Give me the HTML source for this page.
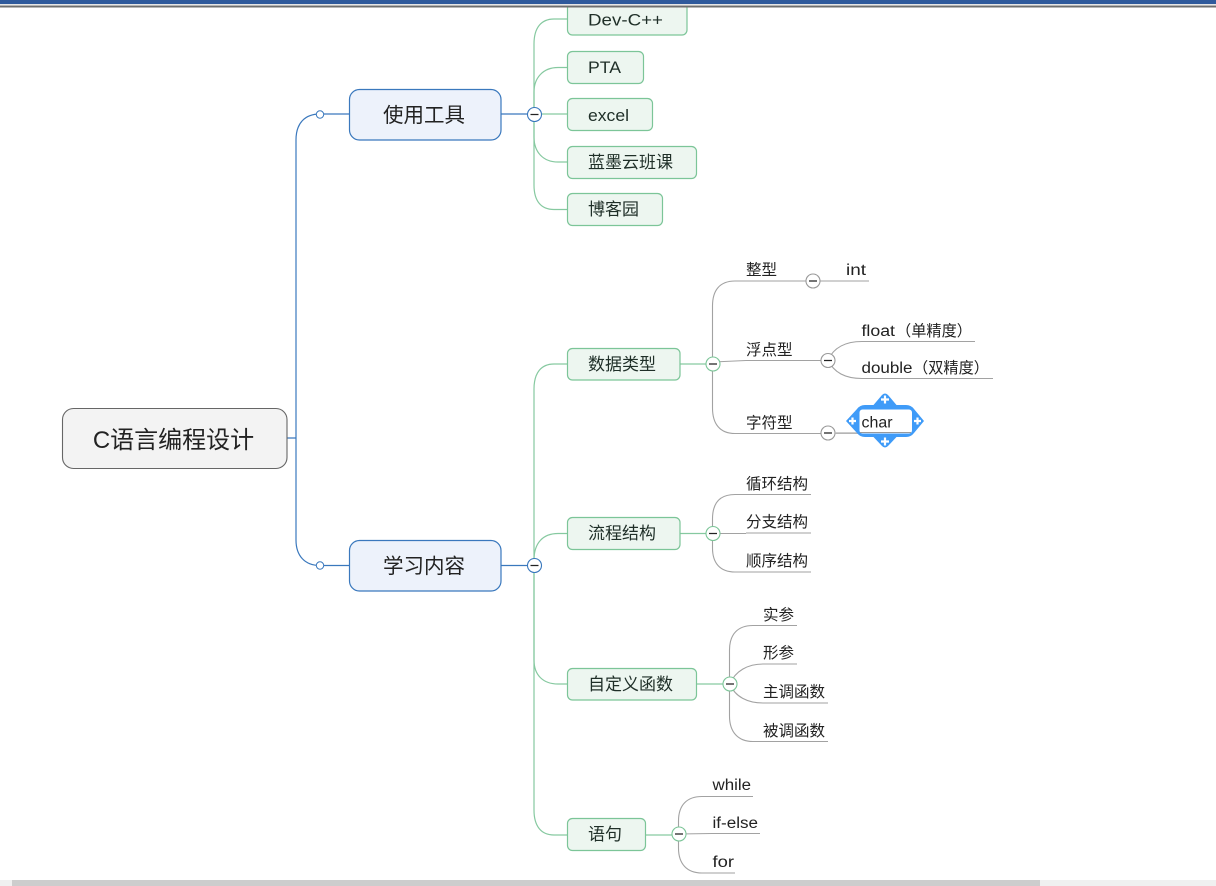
<!DOCTYPE html>
<html>
<head>
<meta charset="utf-8">
<style>
html,body{margin:0;padding:0;background:#fff;width:1216px;height:886px;overflow:hidden}
svg{display:block}
text{font-family:"Liberation Sans","Noto Sans CJK SC",sans-serif;fill:#222}
.b{fill:none;stroke:#3a78bd;stroke-width:1.2}
.g{fill:none;stroke:#86c9a0;stroke-width:1.2}
.k{fill:none;stroke:#a2a2a2;stroke-width:1.1}
.n1{fill:#edf2fb;stroke:#3a78bd;stroke-width:1.2}
.n2{fill:#edf6f0;stroke:#7cc598;stroke-width:1.2}
.t1{font-size:20.5px;text-anchor:middle}
.t2{font-size:17px;fill:#1f2f28}
.t3{font-size:15.5px}
.m{stroke:#222;stroke-width:1.3}
</style>
</head>
<body>
<svg width="1216" height="886" viewBox="0 0 1216 886" xmlns="http://www.w3.org/2000/svg">
<path class="b" d="M287 438H296M320 114H349.500M320 565.500H349.500M501 114H534M501 565.500H534"/>
<path class="b" d="M320 114C305 114 296 123 296 140V540C296 556 305 565.500 320 565.500"/>
<path class="g" d="M567 19H554C541 19 534 28 534 44V185C534 201 541 209.500 554 209.500H567"/>
<path class="g" d="M567 67.500H558C543 67.500 534 78 534 92V114M534 114H567M534 114V137C534 152 543 162 558 162H567"/>
<path class="g" d="M567 364H554C541 364 534 373 534 389V810C534 826 541 835 554 835H567"/>
<path class="g" d="M567 533.500H558C543 533.500 534 543 534 560V660C534 675 543 684 558 684H567"/>
<path class="g" d="M680 364H713M680 533.500H713M696.500 684H730M645.500 835H679"/>
<path class="k" d="M746 281H735C720 281 712.500 290 712.500 306V408C712.500 424 720 433.500 735 433.500H746M713 362L746 360.500"/>
<path class="k" d="M746 281H869M746 360.500H828M746 433.500H860"/>
<path class="k" d="M828 360C834 347 846 341.500 862 341.500H975M828 360C834 373 846 378.500 862 378.500H993"/>
<path class="k" d="M746 494.500H735C720 494.500 712.500 503 712.500 519V548C712.500 563 720 572 735 572H746M713 533.500H746"/>
<path class="k" d="M746 494.500H811M746 533H811M746 572H811"/>
<path class="k" d="M763 625.500H753C738 625.500 729.500 634 729.500 650V716C729.500 732 738 741.500 753 741.500H763M730 684C735 671 748 664 763 664M730 684C735 697 748 703 763 703"/>
<path class="k" d="M763 625.500H797M763 664H797M763 703H828M763 741.500H828"/>
<path class="k" d="M712 796.500H702C687 796.500 678.500 805 678.500 821V848C678.500 864 687 873 702 873H712M679 834L712 833.500"/>
<path class="k" d="M712 796.500H753M712 833.500H760M712 873H735"/>

<rect x="62.500" y="408.500" width="224.500" height="60" rx="11" fill="#f3f3f3" stroke="#666" stroke-width="1.100"/>
<text x="173.500" y="448" font-size="24" text-anchor="middle">C语言编程设计</text>
<rect class="n1" x="349.500" y="89.500" width="151.500" height="50.500" rx="10"/>
<text class="t1" x="424" y="122">使用工具</text>
<rect class="n1" x="349.500" y="540.500" width="151.500" height="50.500" rx="10"/>
<text class="t1" x="424" y="573">学习内容</text>

<rect class="n2" x="567.500" y="3" width="119.500" height="32" rx="5"/>
<text class="t2" x="588" y="25.500" textLength="75" lengthAdjust="spacingAndGlyphs">Dev-C++</text>
<rect class="n2" x="567.500" y="51.500" width="76" height="32" rx="5"/>
<text class="t2" x="588" y="73" textLength="33" lengthAdjust="spacingAndGlyphs">PTA</text>
<rect class="n2" x="567.500" y="98.500" width="85" height="32" rx="5"/>
<text class="t2" x="588" y="121" textLength="41" lengthAdjust="spacingAndGlyphs">excel</text>
<rect class="n2" x="567.500" y="146.500" width="129" height="32" rx="5"/>
<text class="t2" x="588" y="168">蓝墨云班课</text>
<rect class="n2" x="567.500" y="193.500" width="95" height="32" rx="5"/>
<text class="t2" x="588" y="215">博客园</text>
<rect class="n2" x="567.500" y="348.500" width="112.500" height="31.500" rx="5"/>
<text class="t2" x="588" y="370">数据类型</text>
<rect class="n2" x="567.500" y="517.500" width="112.500" height="32" rx="5"/>
<text class="t2" x="588" y="539">流程结构</text>
<rect class="n2" x="567.500" y="668.500" width="129" height="31.500" rx="5"/>
<text class="t2" x="588" y="690">自定义函数</text>
<rect class="n2" x="567.500" y="818.500" width="78" height="32" rx="5"/>
<text class="t2" x="588" y="840">语句</text>

<text class="t3" x="746" y="275">整型</text>
<text class="t3" x="846" y="275" textLength="20" lengthAdjust="spacingAndGlyphs">int</text>
<text class="t3" x="746" y="355">浮点型</text>
<text class="t3" x="861.500" y="336" textLength="33.500" lengthAdjust="spacingAndGlyphs">float</text>
<text x="896" y="336" font-size="15.200">（单精度）</text>
<text class="t3" x="861.500" y="373" textLength="51" lengthAdjust="spacingAndGlyphs">double</text>
<text x="913" y="373" font-size="15.200">（双精度）</text>
<text class="t3" x="746" y="428">字符型</text>
<text class="t3" x="746" y="489">循环结构</text>
<text class="t3" x="746" y="527">分支结构</text>
<text class="t3" x="746" y="566">顺序结构</text>
<text class="t3" x="763" y="620">实参</text>
<text class="t3" x="763" y="658">形参</text>
<text class="t3" x="763" y="697">主调函数</text>
<text class="t3" x="763" y="736">被调函数</text>
<text class="t3" x="712.500" y="790" textLength="38.500" lengthAdjust="spacingAndGlyphs">while</text>
<text class="t3" x="712.500" y="828" textLength="45.500" lengthAdjust="spacingAndGlyphs">if-else</text>
<text class="t3" x="712.500" y="867" textLength="21.500" lengthAdjust="spacingAndGlyphs">for</text>

<circle cx="320" cy="114.500" r="3.700" fill="#fff" stroke="#3a78bd"/>
<circle cx="320" cy="565.500" r="3.700" fill="#fff" stroke="#3a78bd"/>
<g fill="#fff" stroke-width="1.100">
<circle cx="534.500" cy="114.500" r="7" stroke="#3a78bd"/>
<circle cx="534.500" cy="565.500" r="7" stroke="#3a78bd"/>
<circle cx="713" cy="364" r="7" stroke="#7cc598"/>
<circle cx="713" cy="533.500" r="7" stroke="#7cc598"/>
<circle cx="730" cy="684" r="7" stroke="#7cc598"/>
<circle cx="679" cy="834" r="7" stroke="#7cc598"/>
<circle cx="813" cy="281" r="7" stroke="#999"/>
<circle cx="828" cy="360.500" r="7" stroke="#999"/>
<circle cx="828" cy="433" r="7" stroke="#999"/>
</g>
<path class="m" d="M530.500 114.500h8M530.500 565.500h8M709 364h8M709 533.500h8M726 684h8M675 834h8M809 281h8M824 360.500h8M824 433h8"/>

<path d="M835 433H860" stroke="#bbb" stroke-width="1.500"/>
<path d="M846 421L857 409Q860 405 865 405H873.500L882 395Q885 392 888 395L896.500 405H906Q911 405 914 409L924 421L914 433Q911 437 906 437H896.500L888 446Q885 449 882 446L873.500 437H865Q860 437 857 433Z" fill="#3f9bf8"/>
<rect x="859.500" y="409.500" width="52.500" height="24" rx="3" fill="#fff"/>
<path d="M860 432.500H911" stroke="#999" stroke-width="1"/>
<text x="861.500" y="427.500" font-size="15.500" textLength="31" lengthAdjust="spacingAndGlyphs">char</text>
<path d="M881 399.500h8M885 395.500v8M881 441.500h8M885 437.500v8M849 421h7M852.500 417.500v7M914 421h7M917.500 417.500v7" stroke="#fff" stroke-width="2.200"/>

<rect x="0" y="0" width="1216" height="4" fill="#2f5a9c"/>
<rect x="0" y="4" width="1216" height="1" fill="#e6e6e6"/>
<rect x="0" y="5" width="1216" height="1" fill="#b5b5b5"/>
<rect x="0" y="6" width="1216" height="1.500" fill="#6e6e6e"/>
<rect x="0" y="880" width="1216" height="6" fill="#f0f0f0"/>
<rect x="12" y="880" width="1028" height="6" fill="#cdcdcd"/>
</svg>
</body>
</html>
